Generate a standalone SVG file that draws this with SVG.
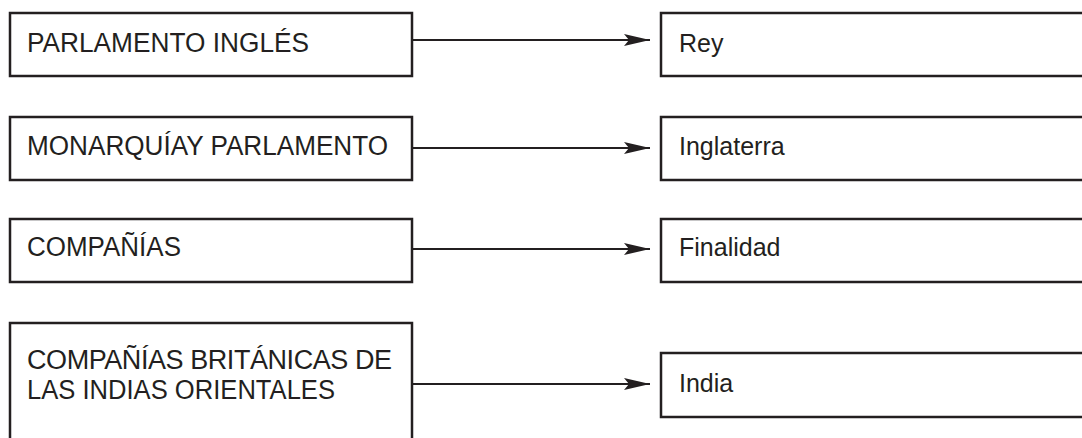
<svg xmlns="http://www.w3.org/2000/svg" width="1082" height="438" viewBox="0 0 1082 438">
<defs>
<style>
.box{fill:#fff;stroke:#231f20;stroke-width:2.5}
.lt{font-family:"Liberation Sans",Arial,sans-serif;font-size:27px;fill:#231f20}
.rt{font-family:"Liberation Sans",Arial,sans-serif;font-size:25px;fill:#231f20}
.con{stroke:#231f20;stroke-width:2.2;fill:none}
</style>
<marker id="ah" viewBox="0 0 26 12" refX="26" refY="6" markerWidth="26" markerHeight="12" markerUnits="userSpaceOnUse" orient="auto">
<path d="M0,0 L26,6 L0,12 L5,6 Z" fill="#231f20"/>
</marker>
</defs>
<rect width="1082" height="438" fill="#fff"/>
<g id="connectors">
<line class="con" x1="412" y1="40" x2="650" y2="40" marker-end="url(#ah)"/>
<line class="con" x1="412" y1="148" x2="650" y2="148" marker-end="url(#ah)"/>
<line class="con" x1="412" y1="249" x2="650" y2="249" marker-end="url(#ah)"/>
<line class="con" x1="412" y1="384" x2="650" y2="384" marker-end="url(#ah)"/>
</g>
<g id="n1">
<rect class="box" x="10" y="13" width="402" height="63"/>
<text class="lt" x="27" y="52" textLength="282" lengthAdjust="spacingAndGlyphs">PARLAMENTO INGLÉS</text>
</g>
<g id="n2">
<rect class="box" x="10" y="117" width="402" height="63"/>
<text class="lt" x="27" y="155" textLength="361" lengthAdjust="spacingAndGlyphs">MONARQUÍAY PARLAMENTO</text>
</g>
<g id="n3">
<rect class="box" x="10" y="219" width="402" height="63"/>
<text class="lt" x="27" y="256" textLength="154" lengthAdjust="spacingAndGlyphs">COMPAÑÍAS</text>
</g>
<g id="n4">
<rect class="box" x="10" y="323" width="402" height="130"/>
<text class="lt" x="27" y="369" textLength="365" lengthAdjust="spacing">COMPAÑÍAS BRITÁNICAS DE</text>
<text class="lt" x="27" y="399" textLength="308" lengthAdjust="spacingAndGlyphs">LAS INDIAS ORIENTALES</text>
</g>
<g id="r1">
<rect class="box" x="661" y="13" width="440" height="63"/>
<text class="rt" x="679" y="52">Rey</text>
</g>
<g id="r2">
<rect class="box" x="661" y="117" width="440" height="63"/>
<text class="rt" x="679" y="155">Inglaterra</text>
</g>
<g id="r3">
<rect class="box" x="661" y="219" width="440" height="63"/>
<text class="rt" x="679" y="256">Finalidad</text>
</g>
<g id="r4">
<rect class="box" x="661" y="353" width="440" height="64"/>
<text class="rt" x="679" y="392">India</text>
</g>
</svg>
